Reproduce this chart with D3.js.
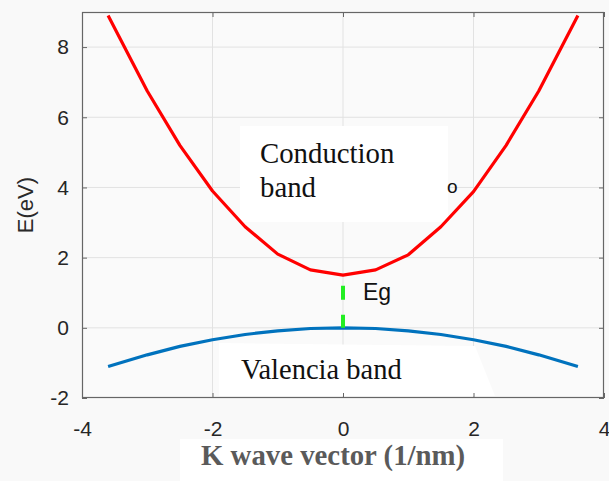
<!DOCTYPE html>
<html>
<head>
<meta charset="utf-8">
<script src="https://cdn.jsdelivr.net/npm/d3@7"></script>
<style>
  body { margin: 0; background: #f9f9f9; }
  svg { display: block; }
</style>
</head>
<body>
<div id="chart"></div>
<script>
// band data
var kValues = [-3.6, -3, -2.5, -2, -1.5, -1, -0.5, 0, 0.5, 1, 1.5, 2, 2.5, 3, 3.6];
var conduction = [8.9, 6.75, 5.2, 3.9, 2.88, 2.1, 1.65, 1.5, 1.65, 2.08, 2.88, 3.88, 5.2, 6.75, 8.9];
var valence = [-1.1, -0.77, -0.53, -0.34, -0.19, -0.085, -0.02, 0, -0.02, -0.085, -0.19, -0.34, -0.53, -0.77, -1.1];
var gapK = [0, 0];
var gapE = [0, 1.2];
var xTicks = [-4, -2, 0, 2, 4];
var yTicks = [-2, 0, 2, 4, 6, 8];

var svgWidth = 609, svgHeight = 481;
var margin = { top: 12, right: 5, bottom: 83, left: 82 };
var width = svgWidth - margin.left - margin.right;
var height = svgHeight - margin.top - margin.bottom;

var svg = d3.select("#chart").append("svg")
    .attr("width", svgWidth)
    .attr("height", svgHeight);

svg.append("rect").attr("width", svgWidth).attr("height", svgHeight).attr("fill", "#f9f9f9");

var g = svg.append("g").attr("transform", `translate(${margin.left},${margin.top})`);

var x = d3.scaleLinear().domain([-4, 4]).range([0, width]);
var y = d3.scaleLinear().domain([-2, 9]).range([height, 0]);

g.append("rect").attr("width", width).attr("height", height).attr("fill", "#fafafa");

// grid
g.append("g").selectAll("line").data(xTicks.slice(1, -1)).enter().append("line")
    .attr("x1", d => x(d)).attr("x2", d => x(d))
    .attr("y1", 0).attr("y2", height)
    .attr("stroke", "#e2e2e2").attr("stroke-width", 1);
g.append("g").selectAll("line").data(yTicks.slice(1)).enter().append("line")
    .attr("y1", d => y(d)).attr("y2", d => y(d))
    .attr("x1", 0).attr("x2", width)
    .attr("stroke", "#e2e2e2").attr("stroke-width", 1);

// white label boxes
g.append("rect")
    .attr("x", 240 - margin.left).attr("y", 126 - margin.top)
    .attr("width", 208).attr("height", 96)
    .attr("fill", "#ffffff");
g.append("path")
    .attr("d", d3.line()([[219 - margin.left, 343 - margin.top], [475 - margin.left, 346 - margin.top],
        [495 - margin.left, 396 - margin.top], [219 - margin.left, 396 - margin.top]]) + "Z")
    .attr("fill", "#ffffff");

// axes
var fontSans = "'Liberation Sans', Arial, Helvetica, sans-serif";
function styleAxis(sel) {
    sel.select(".domain").remove();
    sel.selectAll("line").attr("stroke", "#666");
    sel.selectAll("text").attr("fill", "#262626")
        .style("font-family", fontSans).style("font-size", "21px");
}
var fmt = d => String(d);

g.append("g").attr("transform", `translate(0,${height})`)
    .call(d3.axisBottom(x).tickValues(xTicks).tickSizeInner(-5).tickSizeOuter(0).tickPadding(23).tickFormat(fmt))
    .call(styleAxis);
g.append("g")
    .call(d3.axisTop(x).tickValues(xTicks).tickSizeInner(-5).tickSizeOuter(0).tickFormat(""))
    .call(styleAxis);
g.append("g")
    .call(d3.axisLeft(y).tickValues(yTicks).tickSizeInner(-5).tickSizeOuter(0).tickPadding(13).tickFormat(fmt))
    .call(styleAxis);
g.append("g").attr("transform", `translate(${width},0)`)
    .call(d3.axisRight(y).tickValues(yTicks).tickSizeInner(-5).tickSizeOuter(0).tickFormat(""))
    .call(styleAxis);

g.append("rect").attr("x", 0.5).attr("y", 0.5).attr("width", width - 1).attr("height", height - 1)
    .attr("fill", "none").attr("stroke", "#666").attr("stroke-width", 1.2);

// curves
var line = d3.line().x((d, i) => x(kValues[i])).y(d => y(d));

g.append("path").datum(conduction)
    .attr("d", line)
    .attr("fill", "none").attr("stroke", "#ff0000").attr("stroke-width", 3.2)
    .attr("stroke-linejoin", "round");

g.append("path").datum(valence)
    .attr("d", line)
    .attr("fill", "none").attr("stroke", "#0072bd").attr("stroke-width", 3.2)
    .attr("stroke-linejoin", "round");

g.append("line")
    .attr("x1", x(gapK[1])).attr("x2", x(gapK[0]))
    .attr("y1", y(gapE[1])).attr("y2", y(gapE[0]))
    .attr("stroke", "#22ee22").attr("stroke-width", 4)
    .attr("stroke-dasharray", "14,15");

// text labels
var fontSerif = "'Liberation Serif', 'Times New Roman', serif";
g.append("text").attr("x", 260 - margin.left).attr("y", 163 - margin.top)
    .style("font-family", fontSerif).style("font-size", "28.8px").attr("fill", "#111")
    .text("Conduction");
g.append("text").attr("x", 260 - margin.left).attr("y", 197 - margin.top)
    .style("font-family", fontSerif).style("font-size", "28.8px").attr("fill", "#111")
    .text("band");
g.append("text").attr("x", 241 - margin.left).attr("y", 379 - margin.top)
    .style("font-family", fontSerif).style("font-size", "28.5px").attr("fill", "#111")
    .text("Valencia band");
g.append("text").attr("x", 363 - margin.left).attr("y", 300 - margin.top)
    .style("font-family", fontSans).style("font-size", "23px").attr("fill", "#111")
    .text("Eg");
g.append("text").attr("x", 447 - margin.left).attr("y", 193 - margin.top)
    .style("font-family", fontSans).style("font-size", "19px").attr("fill", "#111")
    .text("o");

// y label
svg.append("text")
    .attr("transform", "translate(33,205) rotate(-90)")
    .attr("text-anchor", "middle")
    .style("font-family", fontSans).style("font-size", "22px").attr("fill", "#2a2a2a")
    .text("E(eV)");

// x label on white box
svg.append("rect").attr("x", 180).attr("y", 439).attr("width", 323).attr("height", 42).attr("fill", "#ffffff");
svg.append("text").attr("x", 201).attr("y", 465)
    .style("font-family", fontSerif).style("font-size", "28.8px").style("font-weight", "bold")
    .attr("fill", "#5a5a5a")
    .text("K wave vector (1/nm)");
</script>
</body>
</html>
